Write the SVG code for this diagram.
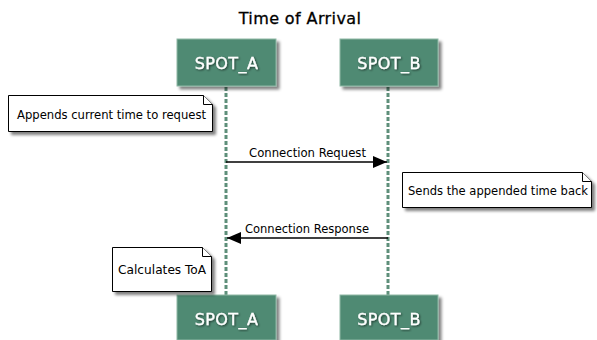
<svg xmlns="http://www.w3.org/2000/svg" width="597" height="340" viewBox="0 0 597 340">
<defs>
<filter id="sh" x="-10%" y="-20%" width="130%" height="160%"><feGaussianBlur in="SourceAlpha" stdDeviation="1.5"/><feOffset dx="3" dy="3"/><feComponentTransfer><feFuncA type="linear" slope="0.5"/></feComponentTransfer><feMerge><feMergeNode/><feMergeNode in="SourceGraphic"/></feMerge></filter>
<filter id="ts"><feGaussianBlur in="SourceAlpha" stdDeviation="0.8"/><feOffset dx="1" dy="1"/><feComponentTransfer><feFuncA type="linear" slope="0.6"/></feComponentTransfer><feMerge><feMergeNode/><feMergeNode in="SourceGraphic"/></feMerge></filter>
<marker id="ah" markerWidth="14" markerHeight="12" refX="14" refY="6" orient="auto" markerUnits="userSpaceOnUse"><path d="M0,0 L14,6 L0,12 Z" fill="#000"/></marker>
<style>
.part{fill:#4f8a73;stroke:#8fb8a6;stroke-width:1}
.pt{font-family:"DejaVu Sans",sans-serif;font-size:16px;letter-spacing:0.4px;fill:#fff;stroke:#fff;stroke-width:0.3;text-anchor:middle}
.life{stroke:#5e8f7a;stroke-width:3;stroke-dasharray:4,2}
.note{fill:#fff;stroke:#000;stroke-width:1}
.nt{font-family:"DejaVu Sans Condensed","DejaVu Sans",sans-serif;font-size:13px;fill:#000}
.msg{stroke:#000;stroke-width:1.5;fill:none}
.ml{font-family:"DejaVu Sans Condensed","DejaVu Sans",sans-serif;font-size:13px;fill:#000;text-anchor:middle}
</style>
</defs>
<rect width="597" height="340" fill="#fff"/>
<text x="300" y="24" font-family="DejaVu Sans,sans-serif" font-size="16" letter-spacing="0.4" stroke="#000" stroke-width="0.3" text-anchor="middle" fill="#000">Time of Arrival</text>
<g id="lifelines">
<line class="life" x1="226" y1="87" x2="226" y2="295"/>
<line class="life" x1="388" y1="87" x2="388" y2="295"/>
</g>
<g id="spot_a_top"><rect class="part" x="177" y="39" width="99" height="47" filter="url(#sh)"/><text class="pt" x="226.5" y="69" filter="url(#ts)">SPOT_A</text></g>
<g id="spot_b_top"><rect class="part" x="340" y="39" width="98" height="47" filter="url(#sh)"/><text class="pt" x="389" y="69" filter="url(#ts)">SPOT_B</text></g>
<g id="spot_a_bot"><rect class="part" x="177" y="295" width="99" height="45" filter="url(#sh)"/><text class="pt" x="226.5" y="325" filter="url(#ts)">SPOT_A</text></g>
<g id="spot_b_bot"><rect class="part" x="340" y="295" width="98" height="45" filter="url(#sh)"/><text class="pt" x="389" y="325" filter="url(#ts)">SPOT_B</text></g>
<g id="note1"><path class="note" d="M8.5,95.5 H203.5 L212.5,104.5 V131.5 H8.5 Z" filter="url(#sh)"/><path class="note" d="M203.5,95.5 V104.5 H212.5"/><text class="nt" x="17" y="119" textLength="189" lengthAdjust="spacingAndGlyphs">Appends current time to request</text></g>
<g id="note2"><path class="note" d="M402.5,172.5 H582.5 L591.5,181.5 V207.5 H402.5 Z" filter="url(#sh)"/><path class="note" d="M582.5,172.5 V181.5 H591.5"/><text class="nt" x="408" y="195" textLength="180" lengthAdjust="spacingAndGlyphs">Sends the appended time back</text></g>
<g id="note3"><path class="note" d="M112.5,247.5 H202.5 L211.5,256.5 V291.5 H112.5 Z" filter="url(#sh)"/><path class="note" d="M202.5,247.5 V256.5 H211.5"/><text class="nt" x="118" y="274" textLength="88" lengthAdjust="spacingAndGlyphs">Calculates ToA</text></g>
<g id="connectors">
<line class="msg" x1="226" y1="162" x2="387" y2="162" marker-end="url(#ah)"/>
<text class="ml" x="307.5" y="157" textLength="117" lengthAdjust="spacingAndGlyphs">Connection Request</text>
<line class="msg" x1="388" y1="238" x2="227" y2="238" marker-end="url(#ah)"/>
<text class="ml" x="307" y="233" textLength="124" lengthAdjust="spacingAndGlyphs">Connection Response</text>
</g>
</svg>
